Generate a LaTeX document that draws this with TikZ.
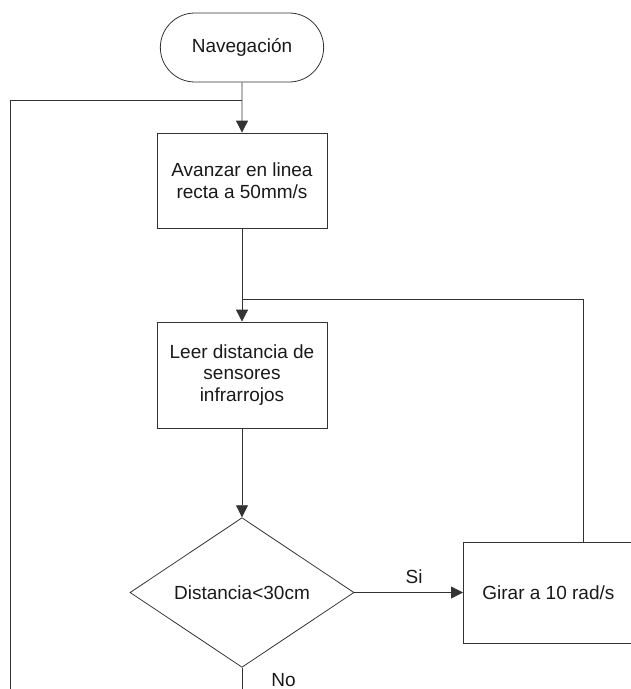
\documentclass[tikz,border=0pt]{standalone}
\usepackage{fontspec}
\setmainfont{Liberation Sans}
\usetikzlibrary{arrows.meta,shapes,positioning}

\tikzset{
  terminal/.style={rounded rectangle, draw=black!80, line width=0.8pt, minimum width=170pt, minimum height=69pt},
  proceso/.style={rectangle, draw=black!80, line width=0.8pt, minimum width=170pt, align=center},
  decision/.style={diamond, draw=black!80, line width=0.8pt, minimum width=224pt, minimum height=136pt, inner sep=0pt},
  flecha/.style={-{Triangle[length=12pt,width=12pt]}, line width=0.8pt, draw=black!80},
  linea/.style={line width=0.8pt, draw=black!80},
  etiqueta/.style={inner sep=0pt, text=black!90}
}

\begin{document}
\begin{tikzpicture}[x=1pt, y=1pt, font=\fontsize{19}{21.5}\selectfont, text=black!90]
\useasboundingbox (0,0) rectangle (631,-689);

% bloques
\node[terminal] (nav) at (242,-47.5) {Navegación};
\node[proceso, minimum height=95pt] (avanzar) at (242,-180.5) {Avanzar en linea\\recta a 50mm/s};
\node[proceso, minimum height=106pt] (leer) at (242,-375) {Leer distancia de\\sensores\\infrarrojos};
\node[decision] (dist) at (242,-592.5) {Distancia<30cm};
\node[proceso, minimum height=101pt, anchor=west] (girar) at (463,-592.5) {Girar a 10 rad/s};

% puntos de union
\coordinate (union1) at (242,-100);
\coordinate (union2) at (242,-299);
\coordinate (salida) at (242,-692);
\coordinate (retorno) at (10,-692);

% conexiones
\draw[flecha] (nav) -- (avanzar);
\draw[linea] (retorno) |- (union1);
\draw[flecha] (avanzar) -- (leer);
\draw[linea] ([xshift=35pt]girar.north) |- (union2);
\draw[flecha] (leer) -- (dist);
\draw[flecha] (dist) -- node[etiqueta, above=8pt, pos=0.55]{Si} (girar);
\draw[linea] (dist) -- node[etiqueta, right=29pt]{No} (salida);
\end{tikzpicture}
\end{document}
